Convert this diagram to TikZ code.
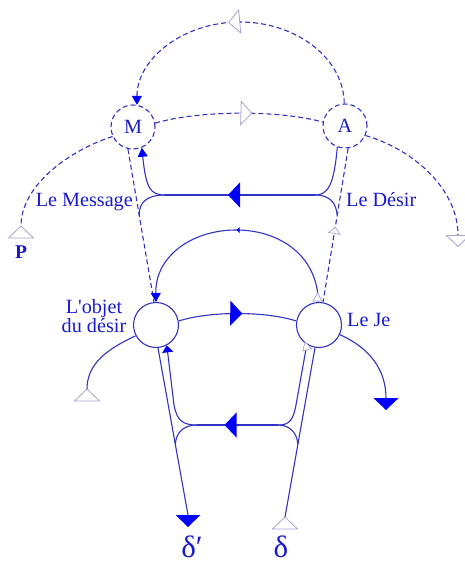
\documentclass[tikz,border=0pt]{standalone}
\usepackage{fontspec}
\setmainfont{Liberation Serif}[Ligatures=TeXOff]
\usetikzlibrary{arrows.meta,decorations.markings,calc}
\definecolor{lineblue}{RGB}{50,50,195}
\definecolor{textblue}{RGB}{25,25,205}
\definecolor{fillblue}{RGB}{0,0,250}
\definecolor{lighttri}{RGB}{165,165,205}
\tikzset{
  bigfull/.tip={Triangle[length=12pt,width=25pt,fill=fillblue,color=fillblue]},
  bigopen/.tip={Triangle[length=12pt,width=25pt,fill=white,color=lighttri,line width=0.8pt]},
  smallfull/.tip={Triangle[length=9pt,width=10pt,fill=fillblue,color=fillblue]},
  flatfull/.tip={Triangle[length=7pt,width=11pt,fill=fillblue,color=fillblue]},
  smallopen/.tip={Triangle[length=7pt,width=13pt,fill=white,color=lighttri,line width=0.7pt]},
  tinyfull/.tip={Triangle[length=3pt,width=6pt,fill=fillblue,color=fillblue]},
  ln/.style={draw=lineblue, line width=1.1pt},
  dl/.style={ln, dash pattern=on 5pt off 3pt},
  ring/.style={circle, draw=lineblue, line width=1.1pt, minimum size=45pt, inner sep=0pt},
  dring/.style={ring, dash pattern=on 5pt off 3pt, minimum size=44pt},
  lbl/.style={text=textblue, font=\fontsize{20.2}{19}\selectfont, inner sep=0pt},
  greek/.style={text=textblue, font=\fontsize{31}{31}\selectfont, inner sep=0pt},
  midmark/.style 2 args={postaction={decorate}, decoration={markings, mark=at position #1 with {\arrow{#2}}}},
  midrev/.style 2 args={postaction={decorate}, decoration={markings, mark=at position #1 with {\arrowreversed{#2}}}},
  ftri/.pic={\fill[fillblue] (0,0) -- (-12,12.5) -- (-12,-12.5) -- cycle;},
  otri/.pic={\draw[lighttri, line width=0.8pt, fill=white] (0,0) -- (-12,12.5) -- (-12,-12.5) -- cycle;},
  stri/.pic={\draw[lighttri, line width=0.7pt, fill=white] (0,0) -- (-8,4.5) -- (-8,-4.5) -- cycle;},
}
\begin{document}
\begin{tikzpicture}[x=1pt, y=-1pt]
\useasboundingbox (0,0) rectangle (464,565);

% main nodes
\node[dring,lbl] (M) at (133,127) {M};
\node[dring,lbl] (A) at (345,126) {A};
\node[ring] (O) at (156,325) {};
\node[ring] (J) at (319,325) {};

% labels
\node[lbl, anchor=base east] (msg) at (133,206) {Le Message};
\node[lbl, anchor=base west] (des) at (346,206) {Le Désir};
\node[lbl, anchor=base, font=\fontsize{19.5}{19}\selectfont\bfseries] (P) at (21,258) {P};
\node[lbl, align=center] (obj) at (94,316) {L'objet\\du désir};
\node[lbl, anchor=base west] (je) at (347,326) {Le Je};
\node[greek, anchor=base] (dprime) at (192,557) {δ′};
\node[greek, anchor=base] (delta) at (281,557) {δ};

% free ends and junctions
\coordinate (Ptip) at (21,226);
\coordinate (Rend) at (458,247);
\coordinate (hUL) at (165,195);
\coordinate (hUR) at (315,195);
\coordinate (cM) at ($(M.-103)!0.433!(O.95)$);
\coordinate (cA) at ($(A.-82)!0.433!(J.80)$);
\coordinate (hLL) at (197,425);
\coordinate (hLR) at (278,425);
\coordinate (dp) at (188,515);
\coordinate (dpTip) at (188,527);
\coordinate (ddTip) at (285,517);
\coordinate (cO) at ($(O.-85)!0.577!(dp)$);
\coordinate (cJ) at ($(J.-100)!0.57!(ddTip)$);
\coordinate (Ltip) at (87,389);
\coordinate (RJtip) at (386,410);
\coordinate (Jtop) at (317.5,293);
\coordinate (Jlow) at (305,342);

% upper dashed connectors
\draw[dl, midmark={0.54}{bigopen}, -{smallfull}] (A.92) .. controls (344,59) and (297,22) .. (240,22)
      .. controls (183,22) and (137,59) .. (M.80);
\draw[dl, midmark={0.58}{bigopen}] (M.10) .. controls (200,110) and (280,110) .. (A.170);
\draw[dl] (M.205) .. controls (70,150) and (21,185) .. (Ptip);
\pic[rotate=90] at (Ptip) {otri};
\draw[dl, -{bigopen}] (A.-25) .. controls (415,150) and (458,190) .. (Rend);
\draw[dl] (M.-103) -- (O.95);
\draw[dl, midrev={0.51}{smallopen}] (A.-82) -- (J.80);

% upper solid junction
\draw[ln, {smallfull}-] (M.-67) .. controls (146,188) and (150,195) .. (hUL);
\draw[ln] (A.-110) .. controls (334,185) and (328,195) .. (hUR);
\draw[ln, midmark={0.58}{bigfull}] (hUR) -- (hUL);
\draw[ln] (hUL) .. controls (146,195) and (139,203) .. (cM);
\draw[ln] (hUR) .. controls (330,195) and (336,203) .. (cA);

% big arc and middle arc
\draw[ln, midmark={0.5}{tinyfull}, -{smallfull}] (J.92) .. controls (318,257) and (281,230) .. (236,230)
      .. controls (191,230) and (155,257) .. (O.90);
\pic[rotate=90] at (Jtop) {stri};
\draw[ln, midmark={0.54}{bigfull}] (O.10) .. controls (210,311) and (265,311) .. (J.170);

% lower solid junction
\draw[ln] (O.-85) -- (dp);
\pic[rotate=-90] at (dpTip) {ftri};
\draw[ln, {flatfull}-] (O.-62) -- (174,405) .. controls (177,421) and (183,425) .. (hLL);
\draw[ln, midmark={0.66}{bigfull}] (hLR) -- (hLL);
\draw[ln] (hLL) .. controls (183,425) and (176,433) .. (cO);
\draw[ln] (J.-100) -- (ddTip);
\pic[rotate=90] at (ddTip) {otri};
\draw[ln] (J.-122) -- (296,405) .. controls (293,421) and (289,425) .. (hLR);
\draw[ln] (hLR) .. controls (290,425) and (297,433) .. (cJ);
\pic[rotate=105] at (Jlow) {stri};

% side arcs
\draw[ln] (O.-152) .. controls (105,350) and (87,365) .. (Ltip);
\pic[rotate=90] at (Ltip) {otri};
\draw[ln, -{bigfull}] (J.-25) .. controls (370,348) and (386,370) .. (RJtip);
\end{tikzpicture}
\end{document}
